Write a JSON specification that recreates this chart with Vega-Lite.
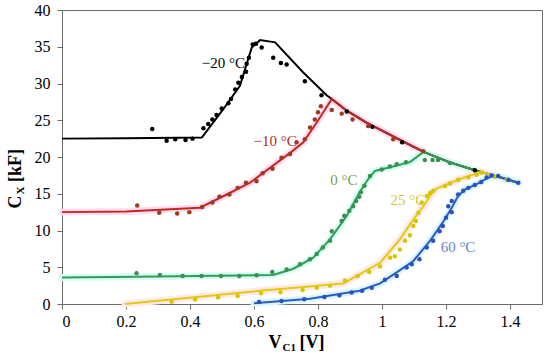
{
  "$schema": "https://vega.github.io/schema/vega-lite/v6.json",
  "autosize": {"type": "none"},
  "padding": {"left": 62, "top": 10, "right": 8, "bottom": 55},
  "width": 480,
  "height": 294,
  "background": "white",
  "config": {
    "view": {"stroke": "#6b6b6b", "strokeWidth": 1},
    "font": "Times New Roman, Liberation Serif, serif",
    "text": {"font": "Times New Roman, Liberation Serif, serif"},
    "axis": {"grid": false, "domainColor": "#6b6b6b", "tickColor": "#6b6b6b", "tickSize": 5, "labelFont": "Times New Roman, Liberation Serif, serif", "labelFontSize": 16, "labelColor": "#000000", "titleFont": "Times New Roman, Liberation Serif, serif", "titleColor": "#000000", "titleFontWeight": "bold"}
  },
  "datasets": {
    "lines": [
      {"s": "-20", "x": 0, "y": 22.5}, {"s": "-20", "x": 0.2, "y": 22.55}, {"s": "-20", "x": 0.437, "y": 22.65}, {"s": "-20", "x": 0.504, "y": 26.5}, {"s": "-20", "x": 0.556, "y": 29.7}, {"s": "-20", "x": 0.593, "y": 34.9}, {"s": "-20", "x": 0.619, "y": 35.9}, {"s": "-20", "x": 0.666, "y": 35.6}, {"s": "-20", "x": 0.754, "y": 31.5}, {"s": "-20", "x": 0.827, "y": 28.4}, {"s": "-20", "x": 0.843, "y": 27.9}, {"s": "-20", "x": 0.89, "y": 26.3}, {"s": "-20", "x": 0.95, "y": 24.7}, {"s": "-20", "x": 1.0, "y": 23.6}, {"s": "-20", "x": 1.067, "y": 22.1}, {"s": "-20", "x": 1.13, "y": 20.7}, {"s": "-20", "x": 1.21, "y": 19.3}, {"s": "-20", "x": 1.29, "y": 18.2}, {"s": "-20", "x": 1.33, "y": 17.7}, {"s": "-20", "x": 1.38, "y": 17.1}, {"s": "-20", "x": 1.425, "y": 16.5},
      {"s": "-10", "x": 0, "y": 12.5}, {"s": "-10", "x": 0.2, "y": 12.6}, {"s": "-10", "x": 0.431, "y": 13.1}, {"s": "-10", "x": 0.515, "y": 14.9}, {"s": "-10", "x": 0.5875, "y": 16.5}, {"s": "-10", "x": 0.671, "y": 19.2}, {"s": "-10", "x": 0.72, "y": 20.8}, {"s": "-10", "x": 0.754, "y": 22.0}, {"s": "-10", "x": 0.796, "y": 24.7}, {"s": "-10", "x": 0.843, "y": 27.9}, {"s": "-10", "x": 0.89, "y": 26.3}, {"s": "-10", "x": 0.95, "y": 24.7}, {"s": "-10", "x": 1.0, "y": 23.6}, {"s": "-10", "x": 1.067, "y": 22.1}, {"s": "-10", "x": 1.13, "y": 20.7}, {"s": "-10", "x": 1.21, "y": 19.3}, {"s": "-10", "x": 1.29, "y": 18.2}, {"s": "-10", "x": 1.33, "y": 17.7}, {"s": "-10", "x": 1.38, "y": 17.1}, {"s": "-10", "x": 1.425, "y": 16.5},
      {"s": "0", "x": 0, "y": 3.6}, {"s": "0", "x": 0.3, "y": 3.75}, {"s": "0", "x": 0.66, "y": 3.95}, {"s": "0", "x": 0.723, "y": 4.8}, {"s": "0", "x": 0.785, "y": 6.3}, {"s": "0", "x": 0.8375, "y": 8.8}, {"s": "0", "x": 0.89, "y": 12.0}, {"s": "0", "x": 0.93, "y": 15.2}, {"s": "0", "x": 0.957, "y": 17.0}, {"s": "0", "x": 0.978, "y": 18.1}, {"s": "0", "x": 1.025, "y": 18.6}, {"s": "0", "x": 1.0875, "y": 19.3}, {"s": "0", "x": 1.13, "y": 20.7}, {"s": "0", "x": 1.21, "y": 19.3}, {"s": "0", "x": 1.29, "y": 18.2}, {"s": "0", "x": 1.33, "y": 17.7}, {"s": "0", "x": 1.38, "y": 17.1}, {"s": "0", "x": 1.425, "y": 16.5},
      {"s": "25", "x": 0.197, "y": 0}, {"s": "25", "x": 0.619, "y": 1.8}, {"s": "25", "x": 0.879, "y": 2.8}, {"s": "25", "x": 0.994, "y": 5.6}, {"s": "25", "x": 1.056, "y": 8.8}, {"s": "25", "x": 1.098, "y": 11.5}, {"s": "25", "x": 1.129, "y": 13.3}, {"s": "25", "x": 1.155, "y": 15.0}, {"s": "25", "x": 1.171, "y": 15.7}, {"s": "25", "x": 1.244, "y": 17.0}, {"s": "25", "x": 1.31, "y": 18.0}, {"s": "25", "x": 1.33, "y": 17.7}, {"s": "25", "x": 1.38, "y": 17.1}, {"s": "25", "x": 1.425, "y": 16.5},
      {"s": "60", "x": 0.6, "y": 0.1}, {"s": "60", "x": 0.775, "y": 0.7}, {"s": "60", "x": 0.93, "y": 1.8}, {"s": "60", "x": 0.994, "y": 2.8}, {"s": "60", "x": 1.046, "y": 4.3}, {"s": "60", "x": 1.098, "y": 5.85}, {"s": "60", "x": 1.15, "y": 8.6}, {"s": "60", "x": 1.19, "y": 11.1}, {"s": "60", "x": 1.218, "y": 13.1}, {"s": "60", "x": 1.238, "y": 14.7}, {"s": "60", "x": 1.26, "y": 15.6}, {"s": "60", "x": 1.296, "y": 16.3}, {"s": "60", "x": 1.327, "y": 17.1}, {"s": "60", "x": 1.35, "y": 17.45}, {"s": "60", "x": 1.38, "y": 17.1}, {"s": "60", "x": 1.425, "y": 16.5}
    ],
    "points": [
      {"s": "-20", "x": 0.282, "y": 23.8}, {"s": "-20", "x": 0.327, "y": 22.2}, {"s": "-20", "x": 0.354, "y": 22.4}, {"s": "-20", "x": 0.386, "y": 22.3}, {"s": "-20", "x": 0.408, "y": 22.5}, {"s": "-20", "x": 0.442, "y": 23.9}, {"s": "-20", "x": 0.457, "y": 24.5}, {"s": "-20", "x": 0.47, "y": 25.1}, {"s": "-20", "x": 0.483, "y": 25.7}, {"s": "-20", "x": 0.499, "y": 26.6}, {"s": "-20", "x": 0.52, "y": 27.3}, {"s": "-20", "x": 0.528, "y": 27.9}, {"s": "-20", "x": 0.541, "y": 29.2}, {"s": "-20", "x": 0.551, "y": 30.1}, {"s": "-20", "x": 0.562, "y": 30.9}, {"s": "-20", "x": 0.575, "y": 31.6}, {"s": "-20", "x": 0.577, "y": 32.7}, {"s": "-20", "x": 0.584, "y": 33.5}, {"s": "-20", "x": 0.596, "y": 35.3}, {"s": "-20", "x": 0.606, "y": 35.4}, {"s": "-20", "x": 0.624, "y": 34.9}, {"s": "-20", "x": 0.66, "y": 33.5}, {"s": "-20", "x": 0.684, "y": 32.8}, {"s": "-20", "x": 0.702, "y": 32.6}, {"s": "-20", "x": 0.759, "y": 30.3}, {"s": "-20", "x": 0.811, "y": 28.4}, {"s": "-20", "x": 0.89, "y": 26.2}, {"s": "-20", "x": 0.97, "y": 24.1}, {"s": "-20", "x": 1.063, "y": 22.0}, {"s": "-20", "x": 1.29, "y": 18.2},
      {"s": "-10", "x": 0.235, "y": 13.4}, {"s": "-10", "x": 0.304, "y": 12.4}, {"s": "-10", "x": 0.36, "y": 12.3}, {"s": "-10", "x": 0.398, "y": 12.5}, {"s": "-10", "x": 0.438, "y": 13.2}, {"s": "-10", "x": 0.47, "y": 13.8}, {"s": "-10", "x": 0.492, "y": 14.6}, {"s": "-10", "x": 0.523, "y": 14.9}, {"s": "-10", "x": 0.549, "y": 15.8}, {"s": "-10", "x": 0.575, "y": 16.5}, {"s": "-10", "x": 0.608, "y": 16.7}, {"s": "-10", "x": 0.627, "y": 17.8}, {"s": "-10", "x": 0.658, "y": 18.4}, {"s": "-10", "x": 0.686, "y": 19.9}, {"s": "-10", "x": 0.7125, "y": 20.4}, {"s": "-10", "x": 0.733, "y": 22.0}, {"s": "-10", "x": 0.759, "y": 22.4}, {"s": "-10", "x": 0.775, "y": 24.0}, {"s": "-10", "x": 0.79, "y": 25.1}, {"s": "-10", "x": 0.8, "y": 26.1}, {"s": "-10", "x": 0.809, "y": 26.9}, {"s": "-10", "x": 0.843, "y": 26.4}, {"s": "-10", "x": 0.874, "y": 25.9}, {"s": "-10", "x": 0.908, "y": 25.1}, {"s": "-10", "x": 0.957, "y": 24.2}, {"s": "-10", "x": 1.035, "y": 22.4}, {"s": "-10", "x": 1.129, "y": 20.8},
      {"s": "0", "x": 0.233, "y": 4.2}, {"s": "0", "x": 0.306, "y": 3.95}, {"s": "0", "x": 0.377, "y": 3.8}, {"s": "0", "x": 0.436, "y": 3.8}, {"s": "0", "x": 0.497, "y": 3.8}, {"s": "0", "x": 0.554, "y": 3.8}, {"s": "0", "x": 0.608, "y": 3.9}, {"s": "0", "x": 0.657, "y": 4.35}, {"s": "0", "x": 0.702, "y": 4.7}, {"s": "0", "x": 0.744, "y": 5.4}, {"s": "0", "x": 0.775, "y": 6.1}, {"s": "0", "x": 0.796, "y": 6.8}, {"s": "0", "x": 0.815, "y": 7.7}, {"s": "0", "x": 0.8375, "y": 8.6}, {"s": "0", "x": 0.843, "y": 9.9}, {"s": "0", "x": 0.874, "y": 11.3}, {"s": "0", "x": 0.882, "y": 12.0}, {"s": "0", "x": 0.898, "y": 12.7}, {"s": "0", "x": 0.91, "y": 13.3}, {"s": "0", "x": 0.919, "y": 14.0}, {"s": "0", "x": 0.929, "y": 14.6}, {"s": "0", "x": 0.934, "y": 15.2}, {"s": "0", "x": 0.945, "y": 16.1}, {"s": "0", "x": 0.9625, "y": 17.4}, {"s": "0", "x": 0.999, "y": 18.3}, {"s": "0", "x": 1.025, "y": 18.7}, {"s": "0", "x": 1.046, "y": 19.0}, {"s": "0", "x": 1.075, "y": 19.3}, {"s": "0", "x": 1.134, "y": 19.6}, {"s": "0", "x": 1.158, "y": 19.6}, {"s": "0", "x": 1.175, "y": 19.6}, {"s": "0", "x": 1.2125, "y": 19.2},
      {"s": "25", "x": 0.343, "y": 0.3}, {"s": "25", "x": 0.416, "y": 0.6}, {"s": "25", "x": 0.488, "y": 0.9}, {"s": "25", "x": 0.549, "y": 1.1}, {"s": "25", "x": 0.622, "y": 1.45}, {"s": "25", "x": 0.683, "y": 1.6}, {"s": "25", "x": 0.752, "y": 1.9}, {"s": "25", "x": 0.796, "y": 2.2}, {"s": "25", "x": 0.8375, "y": 2.5}, {"s": "25", "x": 0.884, "y": 3.2}, {"s": "25", "x": 0.924, "y": 3.8}, {"s": "25", "x": 0.96, "y": 4.35}, {"s": "25", "x": 0.994, "y": 5.1}, {"s": "25", "x": 1.025, "y": 6.3}, {"s": "25", "x": 1.04, "y": 6.5}, {"s": "25", "x": 1.056, "y": 7.4}, {"s": "25", "x": 1.072, "y": 8.6}, {"s": "25", "x": 1.0875, "y": 9.35}, {"s": "25", "x": 1.098, "y": 10.6}, {"s": "25", "x": 1.106, "y": 11.3}, {"s": "25", "x": 1.114, "y": 12.4}, {"s": "25", "x": 1.124, "y": 13.8}, {"s": "25", "x": 1.14, "y": 14.7}, {"s": "25", "x": 1.15, "y": 15.1}, {"s": "25", "x": 1.16, "y": 15.4}, {"s": "25", "x": 1.197, "y": 16.05}, {"s": "25", "x": 1.2125, "y": 16.4}, {"s": "25", "x": 1.238, "y": 16.9}, {"s": "25", "x": 1.27, "y": 17.2}, {"s": "25", "x": 1.296, "y": 17.6}, {"s": "25", "x": 1.311, "y": 17.9}, {"s": "25", "x": 1.353, "y": 17.3}, {"s": "25", "x": 1.39, "y": 16.9},
      {"s": "60", "x": 0.616, "y": 0.27}, {"s": "60", "x": 0.686, "y": 0.4}, {"s": "60", "x": 0.757, "y": 0.64}, {"s": "60", "x": 0.82, "y": 0.95}, {"s": "60", "x": 0.867, "y": 1.2}, {"s": "60", "x": 0.905, "y": 1.55}, {"s": "60", "x": 0.938, "y": 1.8}, {"s": "60", "x": 0.968, "y": 2.2}, {"s": "60", "x": 1.009, "y": 3.3}, {"s": "60", "x": 1.046, "y": 3.8}, {"s": "60", "x": 1.077, "y": 4.95}, {"s": "60", "x": 1.093, "y": 5.4}, {"s": "60", "x": 1.117, "y": 6.1}, {"s": "60", "x": 1.14, "y": 7.7}, {"s": "60", "x": 1.16, "y": 8.6}, {"s": "60", "x": 1.18, "y": 9.9}, {"s": "60", "x": 1.19, "y": 10.6}, {"s": "60", "x": 1.2, "y": 11.75}, {"s": "60", "x": 1.218, "y": 12.5}, {"s": "60", "x": 1.207, "y": 13.3}, {"s": "60", "x": 1.218, "y": 14.0}, {"s": "60", "x": 1.238, "y": 14.9}, {"s": "60", "x": 1.254, "y": 15.4}, {"s": "60", "x": 1.27, "y": 15.8}, {"s": "60", "x": 1.29, "y": 16.2}, {"s": "60", "x": 1.31, "y": 16.6}, {"s": "60", "x": 1.327, "y": 17.2}, {"s": "60", "x": 1.343, "y": 17.5}, {"s": "60", "x": 1.363, "y": 17.4}, {"s": "60", "x": 1.395, "y": 16.9}, {"s": "60", "x": 1.426, "y": 16.5}
    ],
    "labels": [
      {"s": "-20", "x": 0.504, "y": 32.8, "t": "−20 °C"},
      {"s": "-10", "x": 0.666, "y": 22.2, "t": "−10 °C"},
      {"s": "0", "x": 0.881, "y": 16.9, "t": "0 °C"},
      {"s": "25", "x": 1.081, "y": 14.15, "t": "25 °C"},
      {"s": "60", "x": 1.2375, "y": 7.8, "t": "60 °C"}
    ]
  },
  "resolve": {"scale": {"color": "independent"}, "axis": {"x": "independent", "y": "independent"}},
  "layer": [
    {
      "data": {"name": "lines"},
      "transform": [{"filter": "datum.s !== '-20'"}],
      "mark": {"type": "line", "strokeWidth": 7, "strokeCap": "round", "strokeJoin": "round"},
      "encoding": {
        "x": {"field": "x", "type": "quantitative", "scale": {"domain": [0, 1.5], "nice": false},
          "axis": {"values": [0, 0.2, 0.4, 0.6, 0.8, 1, 1.2, 1.4], "format": "~g", "labelPadding": 4, "title": "V\u00a0\u00a0\u00a0\u00a0[V]", "titleFontSize": 18, "titleAlign": "left", "titleAnchor": null, "titleBaseline": "alphabetic", "titleX": 206, "titleY": 43}},
        "y": {"field": "y", "type": "quantitative", "scale": {"domain": [0, 40], "nice": false},
          "axis": {"values": [0, 5, 10, 15, 20, 25, 30, 35, 40], "labelPadding": 7, "title": "C\u00a0\u00a0\u00a0[kF]", "titleFontSize": 18, "titleAngle": 270, "titleAlign": "left", "titleAnchor": null, "titleBaseline": "alphabetic", "titleX": -42, "titleY": 198}},
        "color": {"field": "s", "type": "nominal", "legend": null, "scale": {"domain": ["-10", "0", "25", "60"], "range": ["#ffdcf2", "#d8fbf5", "#fde8f0", "#d8f7fb"]}},
        "detail": {"field": "s"}
      }
    },
    {
      "data": {"name": "lines"},
      "mark": {"type": "line", "strokeWidth": 2},
      "encoding": {
        "x": {"field": "x", "type": "quantitative", "axis": null},
        "y": {"field": "y", "type": "quantitative", "axis": null},
        "color": {"field": "s", "type": "nominal", "legend": null, "sort": null, "scale": {"domain": ["-20", "-10", "0", "25", "60"], "range": ["#000000", "#c0281e", "#2e9e55", "#e2cc00", "#2e58c8"]}}
      }
    },
    {
      "data": {"name": "points"},
      "mark": {"type": "circle", "size": 20, "opacity": 1},
      "encoding": {
        "x": {"field": "x", "type": "quantitative", "axis": null},
        "y": {"field": "y", "type": "quantitative", "axis": null},
        "color": {"field": "s", "type": "nominal", "legend": null, "scale": {"domain": ["-20", "-10", "0", "25", "60"], "range": ["#000000", "#9e3a22", "#3a9050", "#d8c400", "#2a52c2"]}}
      }
    },
    {
      "data": {"name": "labels"},
      "mark": {"type": "text", "fontSize": 15},
      "encoding": {
        "x": {"field": "x", "type": "quantitative", "axis": null},
        "y": {"field": "y", "type": "quantitative", "axis": null},
        "text": {"field": "t"},
        "color": {"field": "s", "type": "nominal", "legend": null, "scale": {"domain": ["-20", "-10", "0", "25", "60"], "range": ["#000000", "#a83222", "#76a04a", "#d6c83a", "#6a84d2"]}}
      }
    },
    {
      "data": {"values": [{"x": 0, "y": 0}]},
      "mark": {"type": "point", "opacity": 0},
      "encoding": {
        "x": {"field": "x", "type": "quantitative",
          "axis": {"orient": "top", "domain": false, "ticks": false, "labels": false, "title": "C1", "titleFontSize": 11, "titleAlign": "left", "titleAnchor": null, "titleBaseline": "alphabetic", "titleX": 220, "titleY": 340}},
        "y": {"field": "y", "type": "quantitative",
          "axis": {"orient": "right", "domain": false, "ticks": false, "labels": false, "title": "X", "titleFontSize": 11, "titleAngle": 270, "titleAlign": "left", "titleAnchor": null, "titleBaseline": "alphabetic", "titleX": -519, "titleY": 184}}
      }
    }
  ]
}
